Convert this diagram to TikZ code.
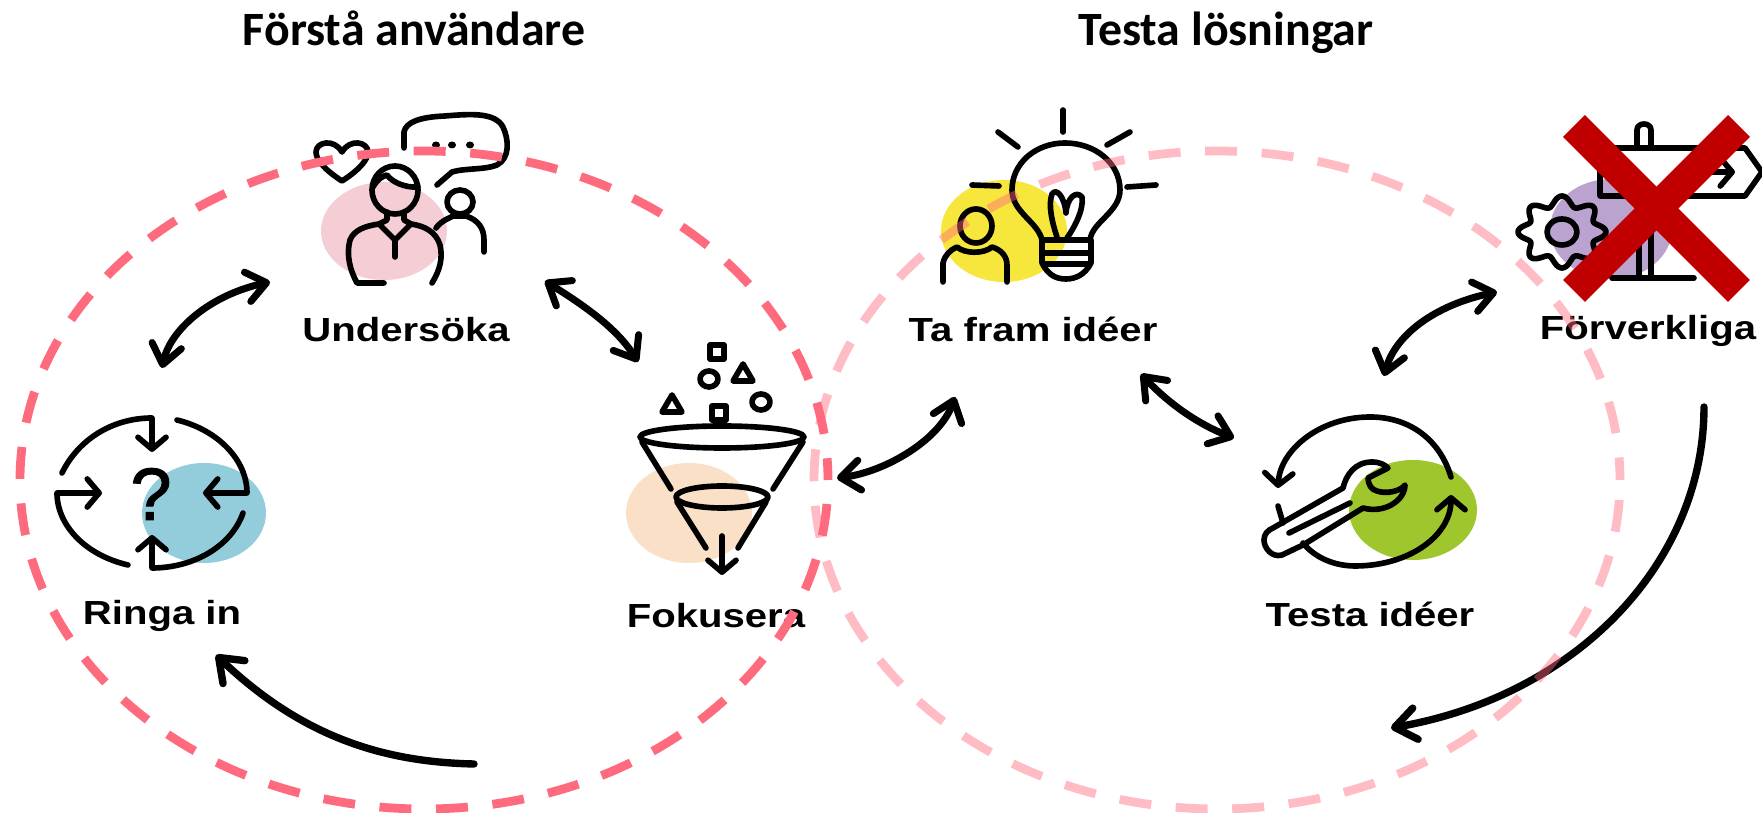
\documentclass[tikz,border=0pt]{standalone}
\usepackage{fontspec}
\setmainfont{Carlito}
\newfontfamily\labelfont[FakeStretch=1.2]{Liberation Sans}
\newfontfamily\signfont[FakeBold=1.5]{Liberation Sans}
\usepackage{tikz}
\usetikzlibrary{arrows.meta}
\definecolor{ringRed}{RGB}{255,107,126}
\definecolor{crossRed}{RGB}{192,0,0}
\definecolor{blobPink}{RGB}{245,205,213}
\definecolor{blobBlue}{RGB}{147,205,219}
\definecolor{blobPeach}{RGB}{251,224,200}
\definecolor{blobYellow}{RGB}{247,230,60}
\definecolor{blobGreen}{RGB}{160,198,46}
\definecolor{blobPurple}{RGB}{187,163,207}

\begin{document}
\begin{tikzpicture}[x=0.01cm,y=-0.01cm,
headline/.style={anchor=base,font=\fontsize{13.6}{16}\selectfont\bfseries},
steplabel/.style={anchor=base,font=\labelfont\fontsize{9.5}{11}\selectfont\bfseries},
icon/.style={draw=black,line width=1.6pt,line cap=round,line join=round},
iconA/.style={icon,-{Straight Barb[length=3.4pt,width=8pt,round]}},
link/.style={draw=black,line width=2pt,line cap=round,{Straight Barb[length=5.5pt,width=8.5pt,round]}-{Straight Barb[length=5.5pt,width=8.5pt,round]}},
back/.style={draw=black,line width=2.1pt,line cap=round,-{Straight Barb[length=6pt,width=9pt,round]}},
ring/.style={draw=ringRed,line width=2.5pt,dash pattern=on 9.1pt off 6.99pt},
cross/.style={draw=crossRed,line width=8.8pt}]
\useasboundingbox (0,0) rectangle (1762,813);

\node[headline] (T1) at (414,46) {Förstå användare};
\node[headline] (T2) at (1226,46) {Testa lösningar};

\fill[blobPink] (384,231) ellipse (63 and 49);
\fill[blobBlue] (204,513) ellipse (62 and 50);
\fill[blobPeach] (689,513) ellipse (63 and 50);
\fill[blobYellow] (1004,231) ellipse (63 and 51);
\fill[blobGreen] (1413,510) ellipse (64 and 50);
\fill[blobPurple] (1611,229) ellipse (61 and 50);

\node[steplabel] (Und) at (406,342) {Undersöka};
\node[steplabel] (Rin) at (162,625) {Ringa in};
\node[steplabel] (Fok) at (716,628) {Fokusera};
\node[steplabel] (Ide) at (1033,342) {Ta fram idéer};
\node[steplabel] (Tes) at (1370,627) {Testa idéer};
\node[steplabel] (Forv) at (1648,340) {Förverkliga};

% Undersoka
\draw[icon] (342,181) .. controls (325,170) and (316,160) .. (316,152) .. controls (316,142) and (334,138) .. (342,152) .. controls (350,138) and (368,142) .. (368,152) .. controls (368,160) and (359,170) .. (342,181) -- cycle;
\draw[icon] (404,148) -- (404,132) .. controls (406,122) and (420,117) .. (445,116) .. controls (470,114) and (495,112) .. (503,127) .. controls (509,140) and (510,158) .. (497,165) .. controls (485,170) and (465,168) .. (452,172) -- (437,185);
\foreach \dotx in {436,452,470} \fill (\dotx,145) ellipse (4 and 3.5);
\draw[icon] (395,190) ellipse (23 and 24);
\draw[icon] (373,187) .. controls (378,178) and (384,176) .. (387,175) .. controls (392,182) and (405,188) .. (418,187);
\draw[icon] (387,212) -- (387,220) -- (379,224) -- (395,240) -- (411,224) -- (404,220) -- (404,212);
\draw[icon] (395,240) -- (395,257);
\draw[icon] (384,283) -- (357,283) .. controls (350,270) and (346,255) .. (350,240) .. controls (354,230) and (365,226) .. (379,224);
\draw[icon] (411,224) .. controls (425,226) and (436,232) .. (440,245) .. controls (443,258) and (440,270) .. (432,283);
\draw[icon] (460,202) ellipse (13 and 12);
\draw[icon] (436,228) .. controls (442,220) and (450,218) .. (453,216) -- (466,216) .. controls (478,220) and (484,228) .. (484,240) -- (484,252);

% Ringa in
\draw[iconA] (62,473) .. controls (78,440) and (112,418) .. (152,418) -- (152,452);
\draw[iconA] (177,420) .. controls (218,430) and (247,460) .. (247,493) -- (203,493);
\draw[iconA] (243,513) .. controls (232,545) and (195,568) .. (152,568) -- (152,535);
\draw[iconA] (128,565) .. controls (85,555) and (57,525) .. (57,493) -- (102,493);
\node[font=\signfont\fontsize{21}{21}\selectfont] (Qm) at (151,494) {?};

% Fokusera
\draw[icon] (710,345) rectangle (724,359);
\draw[icon] (712,406) rectangle (726,420);
\draw[icon] (709,379) ellipse (9 and 8);
\draw[icon] (761,402) ellipse (9 and 8);
\draw[icon] (743,364) -- (733,381) -- (753,381) -- cycle;
\draw[icon] (672,395) -- (662,412) -- (682,412) -- cycle;
\draw[icon] (722,437) ellipse (82 and 11);
\draw[icon] (642,442) -- (671,489);
\draw[icon] (803,442) -- (773,489);
\draw[icon] (722,497) ellipse (46 and 11);
\draw[icon] (677,502) -- (706,548);
\draw[icon] (766,502) -- (738,548);
\draw[iconA] (722,536) -- (722,575);

% Ta fram ideer
\draw[icon] (1063,110) -- (1063,132);
\draw[icon] (998,132) -- (1018,147);
\draw[icon] (1130,132) -- (1107,145);
\draw[icon] (972,185) -- (999,186);
\draw[icon] (1127,187) -- (1156,185);
\draw[icon] (1042,240) .. controls (1038,222) and (1012,212) .. (1012,190) .. controls (1012,163) and (1036,143) .. (1065,143) .. controls (1095,143) and (1120,163) .. (1120,190) .. controls (1120,212) and (1092,222) .. (1090,240);
\draw[icon] (1042,240) -- (1091,240) -- (1091,263) .. controls (1085,275) and (1075,279) .. (1066,279) .. controls (1056,279) and (1048,275) .. (1042,263) -- cycle;
\draw[icon] (1042,253) -- (1091,253);
\draw[icon] (1044,264) -- (1089,264);
\draw[icon] (1057,237) .. controls (1052,222) and (1048,205) .. (1052,194) .. controls (1056,188) and (1064,195) .. (1066,213) .. controls (1067,198) and (1076,190) .. (1082,197) .. controls (1084,210) and (1074,228) .. (1067,238);
\draw[icon] (976,226) ellipse (16 and 17);
\draw[icon] (943,282) -- (943,263) .. controls (945,255) and (950,250) .. (957,247) .. controls (965,254) and (984,254) .. (992,247) .. controls (1002,250) and (1007,257) .. (1007,265) -- (1007,282);

% Testa ideer
\draw[iconA] (1451,477) .. controls (1440,440) and (1410,417) .. (1370,417) .. controls (1320,417) and (1280,450) .. (1278,488);
\draw[icon] (1278,506) -- (1283,523);
\draw[iconA] (1303,543) .. controls (1315,558) and (1335,566) .. (1355,566) .. controls (1410,566) and (1451,535) .. (1451,495);
\draw[icon] (1273,528) -- (1343,488) .. controls (1346,475) and (1355,462) .. (1372,462) .. controls (1380,462) and (1385,465) .. (1388,468) -- (1368,478) .. controls (1368,485) and (1372,490) .. (1377,491) .. controls (1385,494) and (1400,492) .. (1405,485) .. controls (1405,500) and (1385,514) .. (1363,508) -- (1303,545) -- (1282,555) .. controls (1272,558) and (1264,548) .. (1264,540) .. controls (1264,534) and (1268,530) .. (1273,528) -- cycle;
\draw[icon] (1289,533) -- (1350,503);

% Forverkliga
\draw[icon] (1600,148) -- (1745,148) -- (1762,172) -- (1745,196) -- (1600,196) -- cycle;
\draw[icon] (1637,147) -- (1637,130) .. controls (1637,122) and (1651,122) .. (1651,130) -- (1651,147);
\draw[icon] (1639,230) -- (1639,277);
\draw[icon] (1651,230) -- (1651,277);
\draw[icon] (1612,278) -- (1694,278);
\draw[iconA] (1695,172) -- (1735,172);
\draw[icon] plot[domain=0:360,samples=145,smooth] ({1562+(39+5*cos(8*\x))*cos(\x)},{232+(31+5*cos(8*\x))*sin(\x)});
\draw[icon] (1562,232) ellipse (15 and 13);

\coordinate (UndL) at (270,282);
\coordinate (RinT) at (162,368);
\coordinate (UndR) at (545,281);
\coordinate (FokT) at (638,362);
\coordinate (FokR) at (837,478);
\coordinate (IdeB) at (955,397);
\coordinate (IdeR) at (1141,374);
\coordinate (TesL) at (1234,438);
\coordinate (TesT) at (1384,376);
\coordinate (ForvL) at (1497,292);
\coordinate (ForvB) at (1704,407);
\coordinate (TesB) at (1391,728);
\coordinate (LoopB) at (474,764);
\coordinate (RinB) at (216,655);

\draw[link] (RinT) .. controls (170,330) and (210,295) .. (UndL);
\draw[link] (UndR) .. controls (575,300) and (615,325) .. (FokT);
\draw[link] (FokR) .. controls (885,472) and (940,440) .. (IdeB);
\draw[link] (IdeR) .. controls (1170,405) and (1200,425) .. (TesL);
\draw[link] (TesT) .. controls (1395,335) and (1435,305) .. (ForvL);
\draw[back] (ForvB) .. controls (1704,560) and (1580,695) .. (TesB);
\draw[back] (LoopB) .. controls (380,762) and (300,735) .. (RinB);

\draw[ring,dash phase=10.4pt,opacity=0.45] (1217,480) ellipse (403 and 329);
\draw[ring,dash phase=9.25pt] (424,480) ellipse (404 and 329);

\draw[cross] (1574,126) -- (1739,291);
\draw[cross] (1739,126) -- (1574,291);
\end{tikzpicture}
\end{document}
